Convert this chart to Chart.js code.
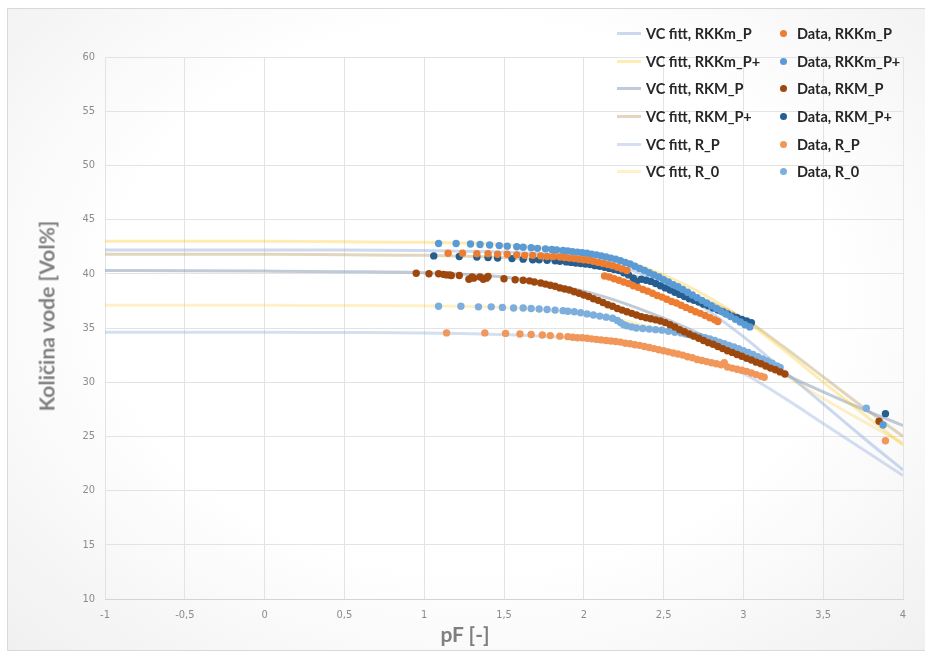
<!DOCTYPE html>
<html>
<head>
<meta charset="utf-8">
<script src="https://cdn.jsdelivr.net/npm/chart.js@4.4.0/dist/chart.umd.min.js"></script>
<style>
    body { margin: 0; width: 925px; height: 656px; overflow: hidden; position: relative; background: #fff;
           font-family: Lato, sans-serif; }
    #frame { position: absolute; left: 7px; top: 8px; width: 930px; height: 641px; border: 1px solid #d9d9d9;
             background: radial-gradient(ellipse at 50% 45%, #ffffff 55%, #f0f0f0 100%); }
    #chart { position: absolute; left: 0; top: 0; }
    .axis-title { position: absolute; font-weight: bold; font-size: 21px; color: #7f7f7f; white-space: nowrap; }
    #yTitle { left: 46px; top: 316px; transform: translate(-50%, -50%) rotate(-90deg); }
    #xTitle { left: 465px; top: 633px; transform: translate(-50%, -50%); }
    #legend { position: absolute; left: 617px; top: 20px; display: grid; grid-template-columns: 163px 130px;
              grid-auto-rows: 27.6px; font-weight: bold; font-size: 14.5px; color: #262626; }
    .item { display: flex; align-items: center; white-space: nowrap; }
    .swatch-line { width: 24px; height: 3px; margin-right: 5px; }
    .swatch-dot { width: 7px; height: 7px; border-radius: 50%; margin: 0 10px 0 0; }
</style>
</head>
<body>
<div id="frame"></div>
<canvas id="chart" width="925" height="656"></canvas>
<div class="axis-title" id="yTitle">Količina vode [Vol%]</div>
<div class="axis-title" id="xTitle">pF [-]</div>
<div id="legend"></div>
<script>
// sample names
const seriesNames = ['RKKm_P', 'RKKm_P+', 'RKM_P', 'RKM_P+', 'R_P', 'R_0'];

// van Genuchten fit curves
const fitX = [-1, -0.5, 0, 0.5, 1, 1.5, 2, 2.25, 2.5, 2.75, 3, 3.25, 3.5, 3.75, 4];
const fitRKKmP   = [42.2, 42.2, 42.2, 42.2, 42.15, 42.0, 41.5, 40.6, 39.1, 36.9, 34.2, 31.1, 28.0, 24.9, 21.9];
const fitRKKmPp  = [43.0, 43.0, 43.0, 42.95, 42.9, 42.7, 42.0, 41.2, 39.9, 38.1, 35.8, 33.0, 30.0, 27.1, 24.2];
const fitRKMP    = [40.3, 40.28, 40.25, 40.2, 40.1, 39.7, 38.4, 37.3, 35.9, 34.3, 32.6, 30.8, 29.1, 27.5, 26.0];
const fitRKMPp   = [41.8, 41.8, 41.8, 41.75, 41.7, 41.5, 40.9, 40.1, 38.9, 37.6, 35.9, 33.3, 30.5, 27.7, 25.0];
const fitRP      = [34.6, 34.6, 34.6, 34.58, 34.55, 34.4, 34.0, 33.6, 33.0, 32.1, 30.8, 28.6, 26.2, 23.8, 21.4];
const fitR0      = [37.1, 37.1, 37.1, 37.08, 37.05, 36.9, 36.3, 35.7, 34.8, 33.8, 32.6, 30.7, 28.5, 26.4, 24.4];

// measured data
const dataRKKmPX = [1.15, 1.24, 1.33, 1.40, 1.46, 1.52, 1.58, 1.63, 1.68, 1.73, 1.77, 1.81, 1.85, 1.88, 1.91, 1.94, 1.97, 2.00, 2.03, 2.06, 2.09, 2.12, 2.15, 2.18, 2.21, 2.24, 2.27,
    2.13, 2.16, 2.19, 2.22, 2.25, 2.28, 2.31, 2.34, 2.37, 2.40, 2.43, 2.46, 2.49, 2.52, 2.55, 2.58, 2.61, 2.64, 2.67, 2.70, 2.73, 2.76, 2.79, 2.82, 2.84];
const dataRKKmPY = [41.9, 41.9, 41.85, 41.85, 41.8, 41.8, 41.75, 41.7, 41.7, 41.65, 41.6, 41.6, 41.55, 41.5, 41.45, 41.4, 41.35, 41.3, 41.25, 41.15, 41.05, 40.95, 40.85, 40.75, 40.6, 40.45, 40.3,
    39.8, 39.7, 39.55, 39.4, 39.25, 39.1, 38.9, 38.75, 38.55, 38.4, 38.2, 38.0, 37.85, 37.65, 37.45, 37.3, 37.1, 36.9, 36.7, 36.5, 36.35, 36.15, 35.95, 35.75, 35.6];

const dataRKKmPpX = [1.09, 1.20, 1.29, 1.35, 1.41, 1.47, 1.52, 1.58, 1.62, 1.67, 1.71, 1.76, 1.80, 1.83, 1.87, 1.90, 1.93, 1.96, 1.99, 2.02, 2.05, 2.08, 2.11, 2.14, 2.17, 2.20, 2.23, 2.26, 2.29, 2.32,
    2.35, 2.38, 2.41, 2.44, 2.47, 2.50, 2.53, 2.56, 2.59, 2.62, 2.65, 2.68, 2.71, 2.74, 2.77, 2.80, 2.83, 2.86, 2.89, 2.92, 2.95, 2.98, 3.01, 3.04, 3.875];
const dataRKKmPpY = [42.8, 42.8, 42.75, 42.7, 42.65, 42.6, 42.55, 42.5, 42.45, 42.4, 42.35, 42.3, 42.25, 42.2, 42.15, 42.1, 42.05, 42.0, 41.95, 41.9, 41.8, 41.75, 41.65, 41.55, 41.45, 41.35, 41.2, 41.05, 40.9, 40.7,
    40.5, 40.3, 40.1, 39.9, 39.7, 39.45, 39.25, 39.0, 38.8, 38.55, 38.3, 38.05, 37.8, 37.55, 37.3, 37.05, 36.8, 36.55, 36.3, 36.05, 35.8, 35.55, 35.3, 35.1, 26.05];

const dataRKMPX = [0.95, 1.03, 1.09, 1.12, 1.14, 1.16, 1.17, 1.22, 1.28, 1.30, 1.31, 1.35, 1.37, 1.39, 1.40, 1.50, 1.57, 1.62, 1.66, 1.69, 1.73, 1.76, 1.79, 1.82, 1.85, 1.88, 1.91, 1.94, 1.97, 2.00,
    2.03, 2.06, 2.09, 2.12, 2.15, 2.18, 2.21, 2.24, 2.27, 2.30, 2.33, 2.36, 2.39, 2.42, 2.45, 2.48, 2.51, 2.54, 2.57, 2.60, 2.63, 2.66, 2.69, 2.72, 2.75, 2.78, 2.81, 2.84, 2.87, 2.90,
    2.93, 2.96, 2.99, 3.02, 3.05, 3.08, 3.11, 3.14, 3.17, 3.20, 3.23, 3.26, 3.85];
const dataRKMPY = [40.05, 40.0, 40.0, 39.95, 39.9, 39.9, 39.85, 39.85, 39.5, 39.7, 39.6, 39.7, 39.5, 39.6, 39.75, 39.55, 39.45, 39.4, 39.35, 39.25, 39.15, 39.05, 38.95, 38.85, 38.7, 38.6, 38.5, 38.35, 38.2, 38.05,
    37.9, 37.7, 37.55, 37.35, 37.15, 37.0, 36.8, 36.65, 36.5, 36.35, 36.2, 36.05, 35.95, 35.85, 35.75, 35.65, 35.5, 35.3, 35.1, 34.85, 34.65, 34.45, 34.25, 34.05, 33.85, 33.65, 33.5, 33.3, 33.1, 32.9,
    32.75, 32.55, 32.4, 32.2, 32.05, 31.85, 31.7, 31.5, 31.3, 31.15, 30.95, 30.75, 26.4];

const dataRKMPpX = [1.06, 1.22, 1.33, 1.40, 1.46, 1.55, 1.62, 1.68, 1.72, 1.77, 1.82, 1.85, 1.89, 1.92, 1.95, 1.98, 2.01, 2.04, 2.07, 2.10, 2.13, 2.16, 2.19, 2.22, 2.25, 2.28, 2.31, 2.33, 2.36, 2.39,
    2.42, 2.45, 2.48, 2.51, 2.54, 2.57, 2.60, 2.63, 2.66, 2.69, 2.72, 2.75, 2.78, 2.81, 2.84, 2.87, 2.90, 2.93, 2.96, 2.99, 3.02, 3.05, 3.89];
const dataRKMPpY = [41.65, 41.6, 41.55, 41.5, 41.45, 41.4, 41.35, 41.3, 41.3, 41.25, 41.2, 41.15, 41.1, 41.05, 41.0, 40.95, 40.9, 40.85, 40.75, 40.7, 40.6, 40.5, 40.4, 40.3, 40.1, 39.9, 39.6, 39.3, 39.5, 39.4,
    39.3, 39.1, 38.9, 38.7, 38.5, 38.3, 38.1, 37.9, 37.7, 37.55, 37.4, 37.2, 37.05, 36.85, 36.65, 36.5, 36.3, 36.1, 35.95, 35.8, 35.65, 35.5, 27.1];

const dataRPX = [1.14, 1.38, 1.51, 1.60, 1.67, 1.74, 1.79, 1.85, 1.90, 1.93, 1.96, 1.99, 2.02, 2.05, 2.08, 2.11, 2.14, 2.17, 2.20, 2.23, 2.26, 2.29, 2.32, 2.35, 2.38, 2.41, 2.44, 2.47, 2.50, 2.53,
    2.56, 2.59, 2.62, 2.65, 2.68, 2.71, 2.74, 2.77, 2.80, 2.83, 2.86, 2.88, 2.90, 2.93, 2.96, 2.99, 3.02, 3.05, 3.08, 3.11, 3.13, 3.89];
const dataRPY = [34.55, 34.55, 34.5, 34.45, 34.4, 34.35, 34.3, 34.25, 34.2, 34.15, 34.1, 34.1, 34.05, 34.0, 33.95, 33.9, 33.85, 33.8, 33.75, 33.7, 33.6, 33.55, 33.45, 33.4, 33.3, 33.2, 33.1, 33.0, 32.9, 32.8,
    32.7, 32.6, 32.5, 32.35, 32.25, 32.1, 32.0, 31.9, 31.8, 31.7, 31.6, 31.8, 31.4, 31.3, 31.2, 31.1, 31.0, 30.85, 30.7, 30.55, 30.45, 24.6];

const dataR0X = [1.09, 1.23, 1.34, 1.42, 1.49, 1.56, 1.62, 1.67, 1.72, 1.77, 1.82, 1.87, 1.90, 1.94, 1.98, 2.02, 2.06, 2.10, 2.14, 2.18, 2.21, 2.23, 2.25, 2.27, 2.30, 2.33, 2.37, 2.41, 2.45, 2.49,
    2.53, 2.57, 2.61, 2.64, 2.67, 2.70, 2.73, 2.76, 2.79, 2.82, 2.85, 2.88, 2.91, 2.94, 2.97, 3.00, 3.03, 3.06, 3.09, 3.12, 3.15, 3.18, 3.21, 3.23, 3.77];
const dataR0Y = [37.0, 37.0, 36.95, 36.95, 36.9, 36.85, 36.85, 36.8, 36.75, 36.7, 36.65, 36.6, 36.55, 36.5, 36.4, 36.3, 36.2, 36.1, 36.0, 35.9, 35.7, 35.5, 35.3, 35.2, 35.1, 35.0, 34.95, 34.9, 34.85, 34.8,
    34.7, 34.6, 34.55, 34.45, 34.35, 34.3, 34.2, 34.1, 34.0, 33.85, 33.7, 33.55, 33.4, 33.25, 33.1, 32.9, 32.75, 32.55, 32.35, 32.15, 31.95, 31.75, 31.5, 31.35, 27.6];

const fitColors = ['rgba(143,170,220,0.45)', 'rgba(255,192,0,0.30)', 'rgba(132,151,176,0.5)',
                   'rgba(191,166,110,0.45)', 'rgba(143,170,220,0.38)', 'rgba(255,192,0,0.22)'];
const dataColors = ['#ED7D31', '#5B9BD5', '#9E480E', '#255E91', '#F1975A', '#7CAFDD'];

const fitYs = [fitRKKmP, fitRKKmPp, fitRKMP, fitRKMPp, fitRP, fitR0];
const dataXs = [dataRKKmPX, dataRKKmPpX, dataRKMPX, dataRKMPpX, dataRPX, dataR0X];
const dataYs = [dataRKKmPY, dataRKKmPpY, dataRKMPY, dataRKMPpY, dataRPY, dataR0Y];

function toPoints(xs, ys) {
    return xs.map((x, i) => ({ x: x, y: ys[i] }));
}

let datasets = [];
seriesNames.forEach((name, i) => {
    datasets.push({
        label: 'VC fitt, ' + name,
        data: toPoints(fitX, fitYs[i]),
        showLine: true,
        borderColor: fitColors[i],
        backgroundColor: fitColors[i],
        borderWidth: 3,
        pointRadius: 0,
        cubicInterpolationMode: 'monotone',
        order: 2
    });
    datasets.push({
        label: 'Data, ' + name,
        data: toPoints(dataXs[i], dataYs[i]),
        showLine: false,
        backgroundColor: dataColors[i],
        borderWidth: 0,
        pointRadius: 3.7,
        order: 1
    });
});

const tickFont = { family: "'DejaVu Sans Condensed', sans-serif", size: 11 };

const chart = new Chart(document.getElementById('chart'), {
    type: 'scatter',
    data: { datasets: datasets },
    options: {
        responsive: false,
        animation: false,
        layout: { padding: { top: 57, right: 22, left: 8, bottom: 0 } },
        plugins: { legend: { display: false }, tooltip: { enabled: false } },
        scales: {
            x: {
                type: 'linear', min: -1, max: 4,
                ticks: { stepSize: 0.5, padding: 10, color: '#8c8c8c', font: tickFont,
                         callback: v => String(v).replace('.', ',') },
                grid: { color: '#e3e3e3', drawTicks: false },
                border: { color: '#d4d4d4' },
                afterFit: s => { s.height = 57; }
            },
            y: {
                min: 10, max: 60,
                ticks: { stepSize: 5, padding: 10, color: '#8c8c8c', font: tickFont },
                grid: { color: '#e3e3e3', drawTicks: false },
                border: { display: false },
                afterFit: s => { s.width = 97; }
            }
        }
    }
});

// two-column legend: fit line | data point
const legend = document.getElementById('legend');
seriesNames.forEach((name, i) => {
    const fit = document.createElement('div');
    fit.className = 'item';
    fit.innerHTML = '<span class="swatch-line" style="background:' + fitColors[i] + '"></span>VC fitt, ' + name;
    legend.appendChild(fit);
    const dat = document.createElement('div');
    dat.className = 'item';
    dat.innerHTML = '<span class="swatch-dot" style="background:' + dataColors[i] + '"></span>Data, ' + name;
    legend.appendChild(dat);
});
</script>
</body>
</html>
